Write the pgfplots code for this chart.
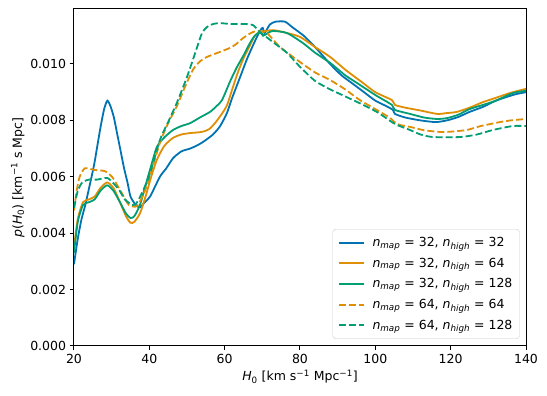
\documentclass[border=0pt]{standalone}
\usepackage{fontspec}
\setmainfont{DejaVu Sans}
\usepackage{pgfplots}
\pgfplotsset{compat=1.18}

\definecolor{cbblue}{HTML}{0173B2}
\definecolor{cborange}{HTML}{DE8F05}
\definecolor{cbgreen}{HTML}{029E73}

\newcommand{\nlab}[2]{\textit{n}\textsubscript{\textit{map}} = #1, \textit{n}\textsubscript{\textit{high}} = #2}

\begin{document}
\begin{tikzpicture}
\begin{axis}[
    name=ax,
    scale only axis,
    width=452pt, height=337pt,
    xmin=20, xmax=140,
    ymin=0, ymax=0.01195,
    xtick={20,40,...,140},
    ytick={0,0.002,0.004,0.006,0.008,0.010},
    yticklabel style={/pgf/number format/.cd, fixed, fixed zerofill, precision=3},
    scaled y ticks=false,
    /pgf/number format/assume math mode=true,
    tick label style={font=\fontsize{12.5}{15}\selectfont},
    label style={font=\fontsize{12.5}{15}\selectfont},
    tick align=outside, tick pos=left,
    major tick length=4.4pt,
    every tick/.style={black, line width=1pt},
    axis line style={line width=1pt},
    xlabel={\textit{H}\textsubscript{0} [km s\textsuperscript{−1} Mpc\textsuperscript{−1}]},
    ylabel={\textit{p}(\textit{H}\textsubscript{0}) [km\textsuperscript{−1} s Mpc]},
    ylabel style={yshift=-1pt},
    every axis plot/.append style={line width=1.8pt, smooth, tension=0.4},
    legend image code/.code={\draw[#1, smooth=false] (0pt,0pt) -- (25pt,0pt);},
    legend cell align=left,
    legend style={
        at={(0.986,0.021)}, anchor=south east,
        font=\fontsize{12.5}{15}\selectfont,
        draw=black!20, rounded corners=3pt, fill=white, fill opacity=0.8, text opacity=1,
        row sep=5.9pt, inner xsep=5pt, inner ysep=6pt,
        /tikz/column 1/.style={column sep=6pt},
    },
]
\addplot[cbblue] coordinates {
(20,0.0029)(21,0.0038)(22,0.0045)(23,0.0050)(24,0.0056)(25.3,0.0064)(26.2,0.0071)
(27.1,0.0078)(28,0.0084)(28.85,0.0087)(29.7,0.0085)(30.6,0.0081)(31.5,0.0075)
(32.4,0.0069)(33.3,0.0063)(34.2,0.0058)(35,0.0053)(36.4,0.0050)(37.5,0.00492)
(38.8,0.0051)(40.2,0.0053)(42.8,0.0060)(44.5,0.0063)(46.3,0.00666)(48.5,0.0069)
(50.8,0.0070)(52.5,0.0071)(54.2,0.00723)(56.9,0.0075)(58.8,0.0078)(60.6,0.00826)
(62,0.0088)(64,0.0095)(66,0.0102)(68,0.0108)(69.5,0.0112)(70.1,0.01128)(70.6,0.0111)
(72,0.0114)(73.5,0.01150)(76,0.01150)(78,0.0113)(81,0.0110)(84,0.0106)(88,0.0100)
(91,0.0096)(94,0.0093)(97,0.0090)(100,0.0087)(103,0.0085)(104.7,0.00837)
(105.2,0.00823)(108,0.0081)(112,0.00800)(116,0.00794)(119,0.0080)(122,0.00812)
(125,0.0083)(128.6,0.00848)(132,0.0087)(136.5,0.0089)(138,0.00895)(140,0.0090)
};
\addlegendentry{\nlab{32}{32}}
\addplot[cborange] coordinates {
(20,0.0035)(21,0.0045)(22.4,0.0051)(24,0.0052)(25.5,0.0053)(27,0.0056)(28.8,0.0058)
(30.5,0.0056)(32.2,0.0051)(33.8,0.0046)(35,0.00437)(36,0.0044)(37.5,0.0047)
(39,0.0053)(40.5,0.0060)(42,0.0066)(44,0.0071)(46.3,0.00738)(48.5,0.0075)
(50.8,0.00755)(52.6,0.00757)(54.2,0.0076)(56,0.0077)(58,0.0080)(60.5,0.0085)
(62,0.0091)(63.5,0.0097)(65,0.0102)(66.5,0.0106)(68,0.0110)(69.4,0.01113)
(72.8,0.0112)(76.5,0.0111)(80,0.01096)(84,0.0106)(88,0.01025)(92,0.0098)
(96.7,0.00933)(100,0.0090)(104.4,0.00872)(105.2,0.00855)(108,0.00845)(112,0.00835)
(116.4,0.00823)(119,0.00826)(121.6,0.0083)(125,0.00845)(128.6,0.00865)(132,0.0088)
(135.7,0.00897)(140,0.00912)
};
\addlegendentry{\nlab{32}{64}}
\addplot[cbgreen] coordinates {
(20,0.0033)(21,0.0044)(22.4,0.0050)(24,0.0051)(25.5,0.0052)(27,0.0055)(28.8,0.0057)
(30.5,0.0055)(32.2,0.0051)(33.8,0.0047)(35,0.00454)(36,0.0046)(37.5,0.0050)
(39,0.0057)(40.5,0.0064)(42,0.00706)(44,0.0074)(46.3,0.00766)(48.5,0.0078)
(50.8,0.0079)(53.4,0.0081)(56.1,0.0083)(57.8,0.0085)(59.3,0.00872)(61.5,0.0094)
(63.3,0.0099)(65,0.0103)(66.7,0.01074)(68,0.0110)(69.4,0.01113)(70.2,0.0110)
(71.5,0.0111)(72.8,0.01117)(76.5,0.0111)(80.8,0.01074)(84,0.0104)(88,0.01004)
(92,0.0096)(95.1,0.00933)(100,0.0089)(104.4,0.00855)(105.2,0.00837)(109.2,0.00823)
(113,0.0081)(116.4,0.00805)(119,0.00808)(122,0.0082)(125,0.0084)(128.6,0.00855)
(132,0.0087)(136.5,0.00897)(140,0.00905)
};
\addlegendentry{\nlab{32}{128}}
\addplot[cborange, dash pattern=on 7pt off 3pt] coordinates {
(20,0.0048)(20.7,0.0055)(21.5,0.0060)(22.9,0.0063)(25.6,0.00624)(28.2,0.0062)
(30.1,0.0060)(31.5,0.0057)(32.7,0.00542)(34.6,0.0050)(36.7,0.00496)(38.5,0.0054)
(39.9,0.0059)(42.8,0.0072)(45,0.0079)(47.3,0.0085)(49.5,0.0092)(51.6,0.0098)
(53.5,0.0101)(55.3,0.01025)(58.8,0.01043)(61.4,0.01057)(63,0.0107)(64.9,0.01092)
(67,0.0111)(68.6,0.01117)(71.2,0.0111)(74.7,0.0106)(80,0.01007)(84,0.0097)
(88,0.00943)(92,0.0091)(95.9,0.00872)(100,0.0084)(103.9,0.00809)(105,0.00795)
(106.5,0.00784)(109.2,0.00777)(113,0.00765)(117.2,0.00759)(120,0.0076)
(124.3,0.00766)(128,0.0078)(133.1,0.00794)(136,0.0080)(140,0.00805)
};
\addlegendentry{\nlab{64}{64}}
\addplot[cbgreen, dash pattern=on 7pt off 3pt] coordinates {
(20,0.0049)(21,0.0055)(22.2,0.0058)(24,0.0059)(26.1,0.0059)(28.8,0.00596)
(30.4,0.00578)(32,0.00553)(33.5,0.0052)(35.4,0.0050)(36.5,0.00505)(37.5,0.00528)
(39.9,0.0060)(42.8,0.0073)(45.2,0.0080)(47.3,0.00862)(50,0.00954)(52.7,0.0106)
(54,0.0111)(55.3,0.01131)(57,0.01142)(58.8,0.01145)(61.4,0.01142)(64.9,0.01142)
(67.5,0.01138)(69.4,0.01113)(72.8,0.01078)(76.5,0.0104)(80,0.0099)(84,0.0094)
(88,0.0091)(92,0.00885)(96,0.0086)(100.4,0.0083)(104.4,0.00794)(105.5,0.00785)
(109.2,0.00766)(112,0.0075)(115.3,0.00741)(122.5,0.00741)(127,0.0075)
(131.2,0.00766)(136.5,0.0078)(140,0.0078)
};
\addlegendentry{\nlab{64}{128}}
\end{axis}
\path (ax.south west) ++(-74pt,-50pt) rectangle ([shift={(21pt,9pt)}]ax.north east);
\end{tikzpicture}
\end{document}
